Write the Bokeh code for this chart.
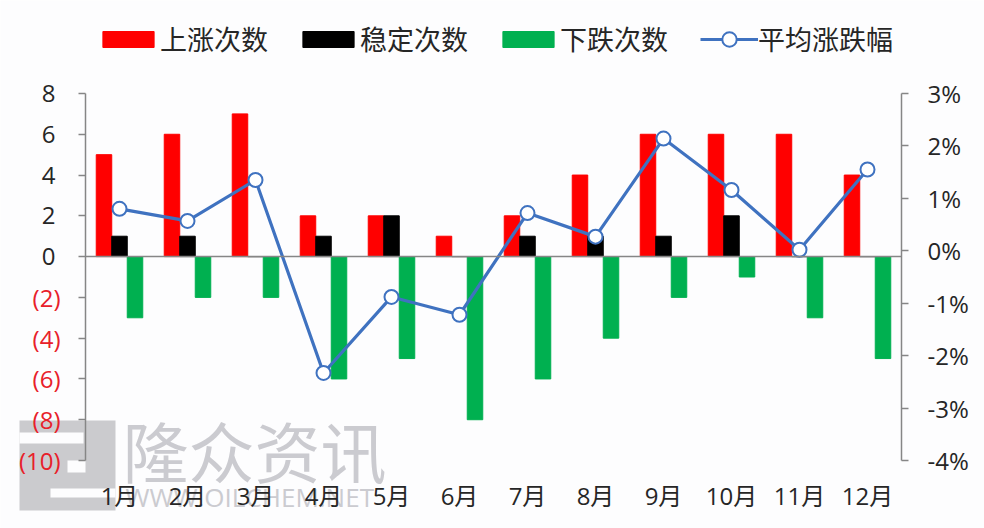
from bokeh.plotting import figure
from bokeh.models import (ColumnDataSource, LinearAxis, Range1d, FixedTicker, Label, Legend,
                          LegendItem, PrintfTickFormatter, BoxAnnotation)
from bokeh.embed import file_html
from bokeh.resources import INLINE

months = ["1月","2月","3月","4月","5月","6月","7月","8月","9月","10月","11月","12月"]
month_pos = [1,2,3,4,5,6,7,8,9,10,11,12]
up = [5,6,7,2,2,1,2,4,6,6,6,4]
flat = [1,1,0,1,2,0,1,1,1,2,0,0]
down = [-3,-2,-2,-6,-5,-8,-6,-4,-2,-1,-3,-5]
avg_pct = [0.80,0.57,1.35,-2.33,-0.88,-1.22,0.72,0.27,2.14,1.16,0.02,1.55]
left_pos_ticks = [0,2,4,6,8]
left_neg_ticks = [-2,-4,-6,-8,-10]
right_ticks = [-4,-3,-2,-1,0,1,2,3]

W, H = 984, 528
FL, FR, FT, FB = 85, 901, 93, 460   # plot area in page pixels
FONT = "Open Sans, Noto Sans CJK SC"
BG = "#fdfdfe"
DARK = "#262626"
AXIS = "#868686"
BLUE = "#3f72c0"
BAR_W = 0.228
TICK_FS = "24px"

def extended(lo, hi, a, b, size):
    # range covering the whole canvas so that [lo, hi] falls on pixels a..b
    k = (hi - lo) / (b - a)
    return Range1d(lo - a * k, hi + (size - b) * k)

p = figure(width=W, height=H, min_border=0,
           x_range=extended(0.5, 12.5, FL, FR, W),
           y_range=extended(-10, 8, H - FB, H - FT, H),
           output_backend="svg", toolbar_location=None, background_fill_color=BG,
           border_fill_color=BG, outline_line_color=None, x_axis_type=None, y_axis_type=None)
p.grid.visible = False
p.extra_y_ranges = {"pct": extended(-4, 3, H - FB, H - FT, H)}

# watermark
def box(l, t, r, b, c):
    p.add_layout(BoxAnnotation(left=l, right=r, top=H-t, bottom=H-b,
                               left_units="screen", right_units="screen",
                               top_units="screen", bottom_units="screen",
                               fill_color=c, fill_alpha=1, line_color=None, level="underlay"))
box(19,420,115,510,"#cbcbce")
box(19,432,83,443,BG)
box(67,460,85,472,BG)
box(50,488,115,497,BG)
p.add_layout(Label(x=122, y=32, x_units="screen", y_units="screen", text="隆众资讯",
                   text_font="Noto Sans CJK SC", text_font_size="66px", text_color="#cbcbd0", level="underlay"))
p.add_layout(Label(x=125, y=14, x_units="screen", y_units="screen", text="WWW.OILCHEM.NET",
                   text_font="Open Sans", text_font_size="26px", text_color="#cbcbd0", level="underlay"))

src = ColumnDataSource(dict(
    m=month_pos, up=up, flat=flat, down=down, pct=avg_pct,
    x1=[v-BAR_W for v in month_pos], x3=[v+BAR_W for v in month_pos]))
r1 = p.vbar(x="x1", top="up", bottom=0, width=BAR_W, color="#ff0000", source=src)
r2 = p.vbar(x="m", top="flat", bottom=0, width=BAR_W, color="#000000", source=src)
r3 = p.vbar(x="x3", top="down", bottom=0, width=BAR_W, color="#00b050", source=src)
l1 = p.line(x="m", y="pct", y_range_name="pct", line_color=BLUE, line_width=3.2, source=src)
l2 = p.scatter(x="m", y="pct", y_range_name="pct", size=14, fill_color="white",
               line_color=BLUE, line_width=2, source=src)

def style(ax, standoff, color=DARK, line=AXIS):
    ax.axis_line_color = line
    ax.axis_line_width = 1.5
    ax.major_tick_line_color = line
    ax.major_tick_line_width = 1.5
    ax.major_tick_in = 0
    ax.major_tick_out = 7
    ax.minor_tick_line_color = None
    ax.major_label_standoff = standoff
    ax.major_label_text_font = FONT
    ax.major_label_text_font_size = TICK_FS
    ax.major_label_text_color = color

# month labels under the plot
xa = LinearAxis(fixed_location=-10, ticker=FixedTicker(ticks=month_pos),
                major_label_overrides={k: v for k, v in zip(month_pos, months)})
style(xa, 11, line=None)
p.add_layout(xa, "below")

# zero line
za = LinearAxis(fixed_location=0, bounds=(0.5, 12.5), ticker=FixedTicker(ticks=[]))
style(za, 0)
p.add_layout(za, "below")

# left axis, positive labels black
ya = LinearAxis(fixed_location=0.5, bounds=(-10, 8), ticker=FixedTicker(ticks=left_pos_ticks + left_neg_ticks),
                major_label_overrides={v: ("" if v < 0 else str(v)) for v in left_pos_ticks + left_neg_ticks})
style(ya, 23)
p.add_layout(ya, "left")

# negative labels red
yn = LinearAxis(fixed_location=0.5, bounds=(-10, 8), ticker=FixedTicker(ticks=left_neg_ticks),
                major_label_overrides={v: f"({-v})" for v in left_neg_ticks})
style(yn, 18, color="#e8202a", line=None)
p.add_layout(yn, "left")

ra = LinearAxis(fixed_location=12.5, y_range_name="pct", bounds=(-4, 3), ticker=FixedTicker(ticks=right_ticks),
                formatter=PrintfTickFormatter(format="%d%%"))
style(ra, 19)
p.add_layout(ra, "right")

def legend(items, x, y, gw, gh, sp):
    p.add_layout(Legend(items=items, orientation="horizontal", location=(x, y), glyph_width=gw, glyph_height=gh,
                        label_standoff=0, spacing=sp, padding=0, margin=0, border_line_color=None,
                        background_fill_alpha=0, label_text_font=FONT, label_text_font_size="27px",
                        label_text_color=DARK))

legend([LegendItem(label="上涨次数", renderers=[r1]),
        LegendItem(label="稳定次数", renderers=[r2]),
        LegendItem(label="下跌次数", renderers=[r3])], 96, 470, 64, 20, 28)
legend([LegendItem(label="平均涨跌幅", renderers=[l1, l2])], 700, 470, 58, 36, 0)

open("out.html", "w").write(file_html(p, INLINE))
